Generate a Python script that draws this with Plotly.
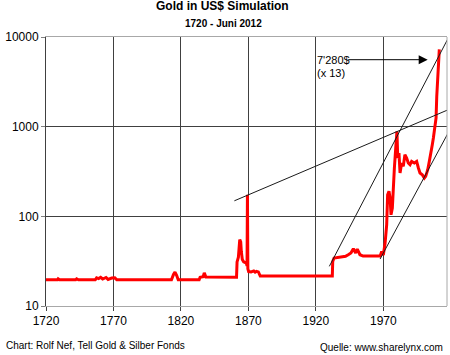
import plotly.graph_objects as go

# ---- data ----
years = [1720.0, 1728.5, 1729.0, 1730.0, 1742.0, 1742.7, 1744.0, 1756.5, 1757.5, 1759.0,
         1760.5, 1762.0, 1764.5, 1766.0, 1768.7, 1771.0, 1772.5, 1813.0, 1814.5, 1815.6,
         1816.8, 1818.0, 1833.5, 1834.2, 1836.5, 1837.3, 1838.5, 1861.2, 1861.6, 1862.6,
         1863.6, 1864.3, 1864.8, 1865.5, 1866.5, 1868.5, 1869.0, 1869.3, 1869.6, 1870.2,
         1872.0, 1874.0, 1875.0, 1876.0, 1877.4, 1878.8, 1932.2, 1932.5, 1933.5, 1936.0,
         1939.0, 1942.0, 1944.0, 1946.0, 1947.8, 1949.5, 1950.7, 1952.7, 1955.0, 1960.0,
         1965.0, 1967.6, 1968.8, 1970.0, 1971.3, 1972.0, 1972.5, 1973.2, 1974.2, 1975.0,
         1975.7, 1976.7, 1977.4, 1978.2, 1979.2, 1980.1, 1980.7, 1981.6, 1982.4, 1983.6,
         1984.8, 1986.0, 1987.3, 1988.5, 1989.8, 1991.0, 1993.0, 1994.7, 1996.0, 1997.2,
         1998.9, 2000.4, 2001.4, 2002.9, 2004.1, 2005.4, 2006.3, 2007.1, 2007.8, 2008.3,
         2009.1, 2009.6, 2010.3, 2010.7, 2011.5]
gold_usd = [19.6, 19.6, 20.1, 19.6, 19.6, 20.1, 19.6, 19.6, 20.6, 20.2,
            20.9, 20.0, 20.8, 19.8, 20.5, 20.6, 19.6, 19.6, 22.5, 23.9,
            22.0, 19.6, 19.6, 20.9, 21.2, 23.4, 21.0, 20.9, 31.0, 35.0,
            55.0, 52.0, 40.0, 33.0, 31.0, 30.0, 28.0, 174.0, 26.0, 24.2,
            24.0, 24.6, 23.8, 24.3, 24.0, 21.6, 21.6, 31.4, 34.3, 34.6,
            35.5, 35.8, 37.3, 39.0, 43.6, 39.0, 43.0, 37.3, 36.0, 35.8,
            35.7, 36.0, 40.6, 37.0, 50.0, 71.0, 81.0, 174.0, 190.0, 160.0,
            104.0, 124.0, 225.0, 346.0, 578.0, 885.0, 447.0, 508.0, 304.0, 393.0,
            361.0, 487.0, 447.0, 394.0, 377.0, 410.0, 394.0, 410.0, 346.0, 304.0,
            291.0, 267.0, 279.0, 331.0, 410.0, 508.0, 630.0, 748.0, 885.0, 1007.0,
            1250.0, 2170.0, 3340.0, 5130.0, 7280.0]

# trend lines (start / end points)
trend_long_years = [1859.6, 2019.4]
trend_long_values = [149, 1574]
trend_upper_years = [1930.0, 2019.4]
trend_upper_values = [27.7, 10600]
trend_lower_years = [1967.6, 2019.4]
trend_lower_values = [33.4, 929]

x_tick_vals = [1720, 1770, 1820, 1870, 1920, 1970]
y_tick_vals = [10, 100, 1000, 10000]
y_tick_text = ["10", "100", "1000", "10000"]

FONT = "Liberation Sans, Arial, sans-serif"
GRID = "#404040"
FRAME = "#a8a8a8"

fig = go.Figure()
fig.add_trace(go.Scatter(x=years, y=gold_usd, mode="lines",
                         line=dict(color="#ff0000", width=3), hoverinfo="skip"))
for tx, ty in [(trend_long_years, trend_long_values),
               (trend_upper_years, trend_upper_values),
               (trend_lower_years, trend_lower_values)]:
    fig.add_trace(go.Scatter(x=tx, y=ty, mode="lines",
                             line=dict(color="#1a1a1a", width=1), hoverinfo="skip"))

fig.update_layout(
    width=450, height=355,
    margin=dict(l=46, r=3, t=37, b=49),
    paper_bgcolor="white", plot_bgcolor="white",
    showlegend=False,
    font=dict(family=FONT, size=12, color="black"),
    xaxis=dict(range=[1720, 2017.2], tickvals=x_tick_vals,
               showgrid=True, gridcolor=GRID, gridwidth=1, zeroline=False,
               showline=True, mirror=True, linecolor=FRAME, linewidth=1,
               ticks="outside", ticklen=4, tickcolor=GRID,
               tickfont=dict(size=12, family=FONT, color="black")),
    yaxis=dict(type="log", range=[1, 4], tickvals=y_tick_vals, ticktext=y_tick_text,
               showgrid=True, gridcolor=GRID, gridwidth=1, zeroline=False,
               showline=True, mirror=False, linecolor=GRID, linewidth=1,
               ticks="outside", ticklen=4, tickcolor="#808080",
               tickfont=dict(size=12, family=FONT, color="black")),
    shapes=[dict(type="line", xref="paper", yref="paper", x0=1, x1=1, y0=0, y1=1,
                 line=dict(color=FRAME, width=1))],
)

anns = [
    dict(text="<b>Gold in US$ Simulation</b>", xref="paper", yref="paper",
         x=0.440, y=1.1152, xanchor="center", yanchor="middle", showarrow=False,
         font=dict(size=12, family=FONT, color="black")),
    dict(text="<b>1720 - Juni 2012</b>", xref="paper", yref="paper",
         x=0.442, y=1.0509, xanchor="center", yanchor="middle", showarrow=False,
         font=dict(size=10, family=FONT, color="black")),
    dict(text="Chart: Rolf Nef, Tell Gold & Silber Fonds", xref="paper", yref="paper",
         x=-0.1047, y=-0.145, xanchor="left", yanchor="middle", showarrow=False,
         font=dict(size=10, family=FONT, color="black")),
    dict(text="Quelle: www.sharelynx.com", xref="paper", yref="paper",
         x=0.995, y=-0.1535, xanchor="right", yanchor="middle", showarrow=False,
         font=dict(size=10, family=FONT, color="black")),
    dict(text="7'280$", xref="paper", yref="paper",
         x=0.6708, y=0.9145, xanchor="left", yanchor="middle", showarrow=False,
         font=dict(size=11, family=FONT, color="black")),
    dict(text="(x 13)", xref="paper", yref="paper",
         x=0.6708, y=0.8673, xanchor="left", yanchor="middle", showarrow=False,
         font=dict(size=11, family=FONT, color="black")),
    dict(text="", xref="x", yref="y", axref="x", ayref="y",
         x=2002.9, y=3.747, ax=1942.9, ay=3.747,
         showarrow=True, arrowhead=2, arrowsize=1.8, arrowwidth=1,
         arrowcolor="black", standoff=0, startstandoff=0),
]
fig.update_layout(annotations=anns)

fig.write_html("out.html",
               config={"displayModeBar": False, "staticPlot": True},
               post_script="document.body.style.margin='0';document.body.style.padding='0';")
